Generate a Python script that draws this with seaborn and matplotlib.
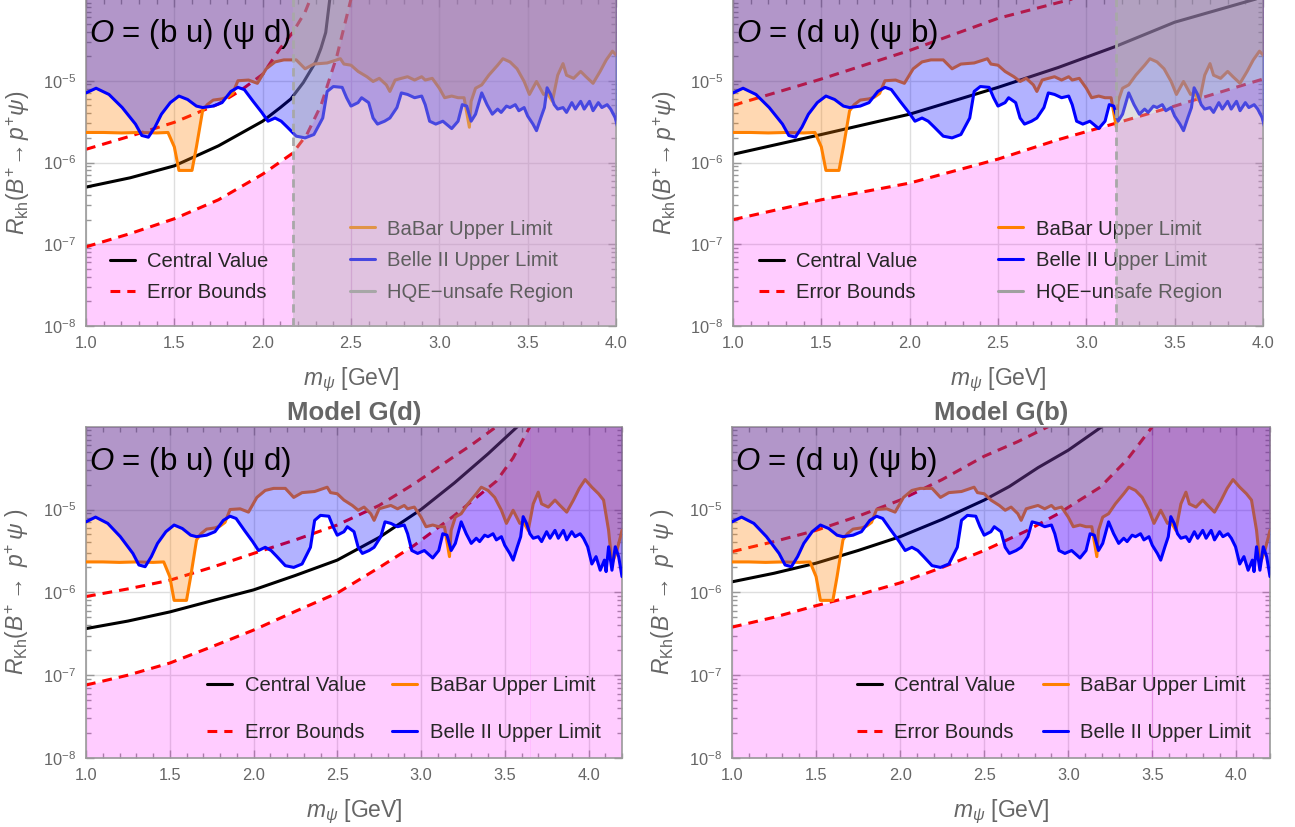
import numpy as np
import matplotlib
matplotlib.use("Agg")
import matplotlib.pyplot as plt
import seaborn as sns
from matplotlib.lines import Line2D
from matplotlib.ticker import (FixedLocator, LogLocator, MultipleLocator,
                               FormatStrFormatter, LogFormatterSciNotation)

# ---------------------------------------------------------------------------
# Experimental upper limits (shared by all panels)
# ---------------------------------------------------------------------------
babar_mass = [1.00, 1.10, 1.20, 1.30, 1.40, 1.464, 1.50, 1.526, 1.60, 1.625, 1.66,
              1.686, 1.72, 1.77, 1.80, 1.83, 1.86, 1.92, 1.97, 2.02, 2.07, 2.12,
              2.19, 2.24, 2.29, 2.365, 2.44, 2.46, 2.50, 2.54, 2.59, 2.625, 2.66,
              2.70, 2.72, 2.75, 2.785, 2.82, 2.86, 2.90, 2.92, 2.96, 3.00, 3.03,
              3.07, 3.106, 3.14, 3.17, 3.18, 3.205, 3.24, 3.28, 3.33, 3.36, 3.40,
              3.44, 3.48, 3.51, 3.55, 3.59, 3.61, 3.64, 3.67, 3.70, 3.72, 3.76,
              3.80, 3.83, 3.87, 3.91, 3.945, 3.98, 4.02, 4.06, 4.09, 4.12, 4.14,
              4.17, 4.20]
babar_limit = [2.33e-6, 2.33e-6, 2.30e-6, 2.33e-6, 2.30e-6, 2.33e-6, 1.55e-6, 8.0e-7,
               8.0e-7, 1.55e-6, 4.3e-6, 5.1e-6, 5.8e-6, 6.0e-6, 6.3e-6, 7.0e-6,
               1.0e-5, 1.02e-5, 9.3e-6, 1.4e-5, 1.7e-5, 1.8e-5, 1.8e-5, 1.4e-5,
               1.6e-5, 1.65e-5, 1.86e-5, 1.6e-5, 1.55e-5, 1.3e-5, 1.12e-5, 9.8e-6,
               1.07e-5, 8.9e-6, 7.4e-6, 1.02e-5, 1.07e-5, 1.12e-5, 1.02e-5, 1.12e-5,
               1.02e-5, 1.07e-5, 8.1e-6, 6.2e-6, 6.5e-6, 6.2e-6, 6.2e-6, 2.7e-6,
               5.6e-6, 8.1e-6, 8.9e-6, 1.17e-5, 1.55e-5, 1.86e-5, 1.7e-5, 1.4e-5,
               9.8e-6, 6.8e-6, 9.8e-6, 6.8e-6, 7.1e-6, 5.6e-6, 1.17e-5, 1.62e-5,
               1.17e-5, 1.07e-5, 1.3e-5, 1.12e-5, 9.3e-6, 1.3e-5, 1.8e-5, 2.3e-5,
               1.86e-5, 1.55e-5, 1.3e-5, 5.6e-6, 2.2e-6, 3.2e-6, 5.6e-6]

belle_mass = [1.00, 1.057, 1.13, 1.205, 1.28, 1.316, 1.353, 1.39, 1.427, 1.477, 1.526,
              1.575, 1.625, 1.66, 1.72, 1.77, 1.82, 1.86, 1.896, 1.946, 1.995,
              2.03, 2.07, 2.105, 2.14, 2.19, 2.24, 2.29, 2.34, 2.365, 2.40, 2.45,
              2.475, 2.50, 2.54, 2.56, 2.60, 2.625, 2.65, 2.69, 2.72, 2.76, 2.785,
              2.82, 2.86, 2.90, 2.92, 2.945, 2.98, 3.02, 3.07, 3.106, 3.13, 3.155,
              3.18, 3.205, 3.24, 3.27, 3.30, 3.33, 3.35, 3.38, 3.40, 3.43, 3.45,
              3.48, 3.50, 3.53, 3.55, 3.575, 3.595, 3.61, 3.63, 3.65, 3.67, 3.70,
              3.72, 3.75, 3.77, 3.80, 3.82, 3.85, 3.87, 3.90, 3.92, 3.95, 3.97,
              3.995, 4.02, 4.045, 4.07, 4.095, 4.105, 4.12, 4.14, 4.16, 4.18, 4.20]
belle_limit = [7.1e-6, 8.1e-6, 6.8e-6, 4.7e-6, 2.95e-6, 2.14e-6, 2.04e-6, 2.7e-6,
               3.9e-6, 5.4e-6, 6.5e-6, 5.9e-6, 4.9e-6, 4.7e-6, 4.9e-6, 5.4e-6,
               7.4e-6, 8.3e-6, 7.8e-6, 5.6e-6, 4.1e-6, 3.2e-6, 3.5e-6, 3.2e-6,
               2.7e-6, 2.1e-6, 2.0e-6, 2.2e-6, 3.5e-6, 7.4e-6, 8.5e-6, 8.3e-6,
               6.2e-6, 4.9e-6, 5.4e-6, 6.2e-6, 5.4e-6, 3.5e-6, 2.95e-6, 3.2e-6,
               3.5e-6, 4.7e-6, 7.1e-6, 6.8e-6, 6.2e-6, 6.5e-6, 5.1e-6, 3.2e-6,
               2.95e-6, 3.2e-6, 2.6e-6, 3.2e-6, 5.1e-6, 4.9e-6, 3.2e-6, 3.9e-6,
               7.1e-6, 5.1e-6, 3.9e-6, 4.5e-6, 4.1e-6, 4.9e-6, 4.7e-6, 5.1e-6,
               4.3e-6, 4.7e-6, 3.7e-6, 2.95e-6, 2.45e-6, 3.55e-6, 4.7e-6, 8.2e-6,
               6.8e-6, 5.1e-6, 4.5e-6, 4.7e-6, 4.1e-6, 5.4e-6, 4.5e-6, 5.6e-6,
               4.5e-6, 5.6e-6, 4.3e-6, 5.4e-6, 4.7e-6, 5.1e-6, 4.5e-6, 3.55e-6,
               2.2e-6, 2.7e-6, 1.85e-6, 2.45e-6, 1.78e-6, 3.55e-6, 1.85e-6, 3.55e-6,
               2.7e-6, 1.55e-6]

# ---------------------------------------------------------------------------
# Theory predictions: central value and error bounds for each panel
# ---------------------------------------------------------------------------
# O = (b u)(psi d), upper row
bud_top_central_m = [1.0, 1.25, 1.5, 1.75, 2.0, 2.1, 2.16, 2.23, 2.3, 2.33, 2.357, 2.38]
bud_top_central = [5.0e-7, 6.5e-7, 9.1e-7, 1.6e-6, 3.2e-6, 4.7e-6, 6.0e-6, 9.5e-6,
                   1.7e-5, 2.5e-5, 3.9e-5, 1.0e-4]
bud_top_upper_m = [1.0, 1.25, 1.5, 1.75, 1.875, 2.0, 2.1, 2.17, 2.24, 2.27]
bud_top_upper = [1.45e-6, 2.1e-6, 3.1e-6, 5.2e-6, 7.6e-6, 1.2e-5, 2.5e-5, 3.9e-5,
                 6.9e-5, 1.0e-4]
bud_top_lower_m = [1.0, 1.25, 1.5, 1.75, 2.0, 2.17, 2.25, 2.33, 2.42, 2.5]
bud_top_lower = [9.3e-8, 1.35e-7, 2.05e-7, 3.5e-7, 7.2e-7, 1.3e-6, 2.2e-6, 5.0e-6,
                 2.0e-5, 1.0e-4]

# O = (d u)(psi b), upper row
dub_top_central_m = [1.0, 1.5, 2.0, 2.5, 2.84, 3.16, 3.5, 3.96]
dub_top_central = [1.26e-6, 2.2e-6, 3.9e-6, 8.3e-6, 1.45e-5, 2.6e-5, 5.2e-5, 1.0e-4]
dub_top_upper_m = [1.0, 1.5, 2.0, 2.5, 2.92]
dub_top_upper = [5.0e-6, 1.05e-5, 2.35e-5, 5.8e-5, 1.0e-4]
dub_top_lower_m = [1.0, 1.5, 2.0, 2.5, 2.84, 3.15, 3.5, 4.0]
dub_top_lower = [2.0e-7, 3.5e-7, 5.6e-7, 1.1e-6, 1.9e-6, 2.95e-6, 4.9e-6, 1.05e-5]

# Model G(d)
gd_central_m = [1.0, 1.25, 1.5, 1.75, 2.0, 2.25, 2.5, 2.75, 3.0, 3.2, 3.4, 3.575]
gd_central = [3.65e-7, 4.5e-7, 5.8e-7, 7.9e-7, 1.07e-6, 1.6e-6, 2.45e-6, 4.6e-6,
              1.0e-5, 2.1e-5, 4.7e-5, 1.0e-4]
gd_upper_m = [1.0, 1.25, 1.5, 1.75, 2.0, 2.25, 2.5, 2.75, 2.96, 3.1, 3.2, 3.3, 3.45]
gd_upper = [8.9e-7, 1.1e-6, 1.4e-6, 2.0e-6, 2.95e-6, 4.3e-6, 6.5e-6, 1.12e-5, 2.05e-5,
            3.2e-5, 4.4e-5, 6.0e-5, 1.0e-4]
gd_lower_m = [1.0, 1.25, 1.5, 1.75, 2.0, 2.25, 2.5, 2.76, 2.96, 3.2, 3.45, 3.55, 3.65]
gd_lower = [7.6e-8, 1.0e-7, 1.4e-7, 2.2e-7, 3.5e-7, 5.9e-7, 9.8e-7, 2.05e-6, 3.7e-6,
            8.5e-6, 2.2e-5, 4.2e-5, 1.0e-4]

# Model G(b)
gb_central_m = [1.0, 1.25, 1.5, 1.75, 2.0, 2.25, 2.5, 2.65, 2.82, 3.0, 3.2]
gb_central = [1.34e-6, 1.7e-6, 2.25e-6, 3.2e-6, 4.7e-6, 7.6e-6, 1.3e-5, 1.9e-5,
              3.2e-5, 5.2e-5, 1.0e-4]
gb_upper_m = [1.0, 1.25, 1.5, 1.75, 2.0, 2.25, 2.5, 2.7, 2.88]
gb_upper = [3.1e-6, 4.1e-6, 5.6e-6, 8.3e-6, 1.3e-5, 2.3e-5, 4.4e-5, 6.6e-5, 1.0e-4]
gb_lower_m = [1.0, 1.25, 1.5, 1.75, 2.0, 2.25, 2.5, 2.75, 2.94, 3.19, 3.35, 3.5]
gb_lower = [3.8e-7, 5.0e-7, 6.9e-7, 9.3e-7, 1.3e-6, 2.0e-6, 3.2e-6, 5.5e-6, 8.9e-6,
            1.86e-5, 4.0e-5, 1.0e-4]

operator_labels = [r"$O$ = (b u) (ψ d)", r"$O$ = (d u) (ψ b)"]
panel_titles = ["Model G(d)", "Model G(b)"]
hqe_edges = [2.17, 3.17]

# ---------------------------------------------------------------------------
# Style
# ---------------------------------------------------------------------------
sns.set_theme(style="ticks")
plt.rcParams["font.family"] = ["Liberation Sans", "DejaVu Sans"]
plt.rcParams["mathtext.fontset"] = "custom"
plt.rcParams["mathtext.rm"] = "Liberation Sans"
plt.rcParams["mathtext.it"] = "Liberation Sans:italic"
plt.rcParams["mathtext.bf"] = "Liberation Sans:bold"

PINK = "#FF00FF"
ORANGE = "#FF8000"
BLUE = "#0000FF"
RED = "#FF0000"
HQE_GRAY = "#B3B3B3"
AXIS_GRAY = "#999999"
LABEL_GRAY = "#666666"
YMIN, YMAX = 1e-8, 1e-4
LW = 2.2
DASH = (3.2, 2.3)

W, H = 1295, 827
fig = plt.figure(figsize=(W / 100, H / 100), dpi=100)


def px_axes(left, right, top, bottom):
    return fig.add_axes([left / W, 1 - bottom / H, (right - left) / W, (bottom - top) / H])


def line(ax, m, v, z, **kw):
    sns.lineplot(x=m, y=v, ax=ax, estimator=None, sort=False, legend=False,
                 zorder=z, **kw)


def draw_panel(ax, xmax, central, upper, lower, op_label, hqe=None, title=None,
               legend_rows=None):
    ax.set_yscale("log")

    # region below the lower error bound
    lm, lv = lower
    ax.fill_between(lm, YMIN, lv, color=PINK, alpha=0.2, lw=0, zorder=1)
    if lv[-1] >= YMAX:
        ax.axvspan(lm[-1], xmax, color=PINK, alpha=0.2, lw=0, zorder=1)

    # theory curves
    line(ax, central[0], central[1], 2, color="black", linewidth=LW)
    for m, v in (upper, lower):
        line(ax, m, v, 2, color=RED, linewidth=LW, dashes=DASH)

    # BaBar limit, excluded region above it
    ax.fill_between(babar_mass, babar_limit, YMAX, color=ORANGE, alpha=0.3, lw=0, zorder=3)
    line(ax, babar_mass, babar_limit, 3.5, color=ORANGE, linewidth=LW)
    # Belle II limit, excluded region above it
    ax.fill_between(belle_mass, belle_limit, YMAX, color=BLUE, alpha=0.3, lw=0, zorder=4)
    line(ax, belle_mass, belle_limit, 4.5, color=BLUE, linewidth=LW)

    ax.set_xlim(1.0, xmax)
    ax.set_ylim(YMIN, YMAX)

    # legends
    h_central = Line2D([], [], color="black", lw=LW)
    h_err = Line2D([], [], color=RED, lw=LW, dashes=DASH)
    h_babar = Line2D([], [], color=ORANGE, lw=LW)
    h_belle = Line2D([], [], color=BLUE, lw=LW)
    left_handles = [h_central, h_err]
    left_labels = ["Central Value", "Error Bounds"]
    right_handles = [h_babar, h_belle]
    right_labels = ["BaBar Upper Limit", "Belle II Upper Limit"]
    if hqe is not None:
        right_handles.append(Line2D([], [], color="#A0A0A0", lw=LW))
        right_labels.append("HQE\u2212unsafe Region")
    (x1, y1), (x2, y2), spacing = legend_rows
    common = dict(frameon=False, fontsize=14.6, handlelength=1.25, handletextpad=0.6,
                  borderpad=0, borderaxespad=0, labelspacing=spacing,
                  loc="center left")
    leg1 = ax.legend(left_handles, left_labels, bbox_to_anchor=(x1, y1), **common)
    leg1.set_zorder(5)
    ax.add_artist(leg1)
    leg2 = ax.legend(right_handles, right_labels, bbox_to_anchor=(x2, y2), **common)
    leg2.set_zorder(5)

    # HQE-unsafe region
    if hqe is not None:
        ax.axvspan(hqe, xmax, color=HQE_GRAY, alpha=0.4, lw=0, zorder=6)
        ax.axvline(hqe, color="#A8A8A8", lw=2.0, dashes=(3, 2), zorder=6)

    ax.text(0.006, 0.893, op_label, transform=ax.transAxes, fontsize=22.5,
            va="center", ha="left", color="black", zorder=7)

    # axes decoration
    ax.grid(True, which="major", color="#DEDEDE", lw=1.0)
    ax.set_axisbelow(True)
    ax.xaxis.set_major_locator(MultipleLocator(0.5))
    ax.xaxis.set_minor_locator(MultipleLocator(0.1))
    ax.xaxis.set_major_formatter(FormatStrFormatter("%.1f"))
    ax.yaxis.set_major_locator(FixedLocator([1e-8, 1e-7, 1e-6, 1e-5]))
    ax.yaxis.set_major_formatter(LogFormatterSciNotation())
    ax.yaxis.set_minor_locator(LogLocator(base=10, subs=np.arange(2, 10), numticks=20))
    ax.tick_params(which="both", direction="in", top=True, right=True,
                   color=AXIS_GRAY, labelcolor=LABEL_GRAY, labelsize=11.8, width=1)
    ax.tick_params(which="major", length=6, pad=7)
    ax.tick_params(which="minor", length=3.5)
    for s in ax.spines.values():
        s.set_color(AXIS_GRAY)
        s.set_linewidth(1.2)

    ax.set_xlabel(r"$m_{\psi}$ [GeV]", fontsize=16.5, color=LABEL_GRAY, labelpad=11)
    if title is not None:
        ax.set_title(title, fontsize=18.5, fontweight="bold", color=LABEL_GRAY, pad=5)


ax_tl = px_axes(86, 616, -1, 326)
draw_panel(ax_tl, 4.0,
           (bud_top_central_m, bud_top_central),
           (bud_top_upper_m, bud_top_upper),
           (bud_top_lower_m, bud_top_lower),
           operator_labels[0], hqe=hqe_edges[0],
           legend_rows=((0.045, 0.150), (0.498, 0.200), 0.62))
ax_tl.set_ylabel(r"$R_{\mathrm{kh}}(B^{+}\!\rightarrow p^{+}\psi)$", fontsize=16.5, color=LABEL_GRAY)

ax_tr = px_axes(733, 1263, -1, 326)
draw_panel(ax_tr, 4.0,
           (dub_top_central_m, dub_top_central),
           (dub_top_upper_m, dub_top_upper),
           (dub_top_lower_m, dub_top_lower),
           operator_labels[1], hqe=hqe_edges[1],
           legend_rows=((0.049, 0.150), (0.50, 0.200), 0.62))
ax_tr.set_ylabel(r"$R_{\mathrm{kh}}(B^{+}\!\rightarrow p^{+}\psi)$", fontsize=16.5, color=LABEL_GRAY)

ax_bl = px_axes(86, 622, 426.7, 758)
draw_panel(ax_bl, 4.2,
           (gd_central_m, gd_central),
           (gd_upper_m, gd_upper),
           (gd_lower_m, gd_lower),
           operator_labels[0], title=panel_titles[0],
           legend_rows=((0.226, 0.149), (0.571, 0.149), 1.38))
ax_bl.set_ylabel(r"$R_{\mathrm{Kh}}(B^{+}\rightarrow\ p^{+}\,\psi\ )$", fontsize=16.5, color=LABEL_GRAY)

ax_br = px_axes(732, 1270, 426.7, 758)
draw_panel(ax_br, 4.2,
           (gb_central_m, gb_central),
           (gb_upper_m, gb_upper),
           (gb_lower_m, gb_lower),
           operator_labels[1], title=panel_titles[1],
           legend_rows=((0.232, 0.149), (0.578, 0.149), 1.38))
ax_br.set_ylabel(r"$R_{\mathrm{Kh}}(B^{+}\rightarrow\ p^{+}\,\psi\ )$", fontsize=16.5, color=LABEL_GRAY)

for ax in (ax_tl, ax_tr, ax_bl, ax_br):
    ax.yaxis.set_label_coords(-0.102, 0.5)

fig.savefig("out.png", dpi=100)
